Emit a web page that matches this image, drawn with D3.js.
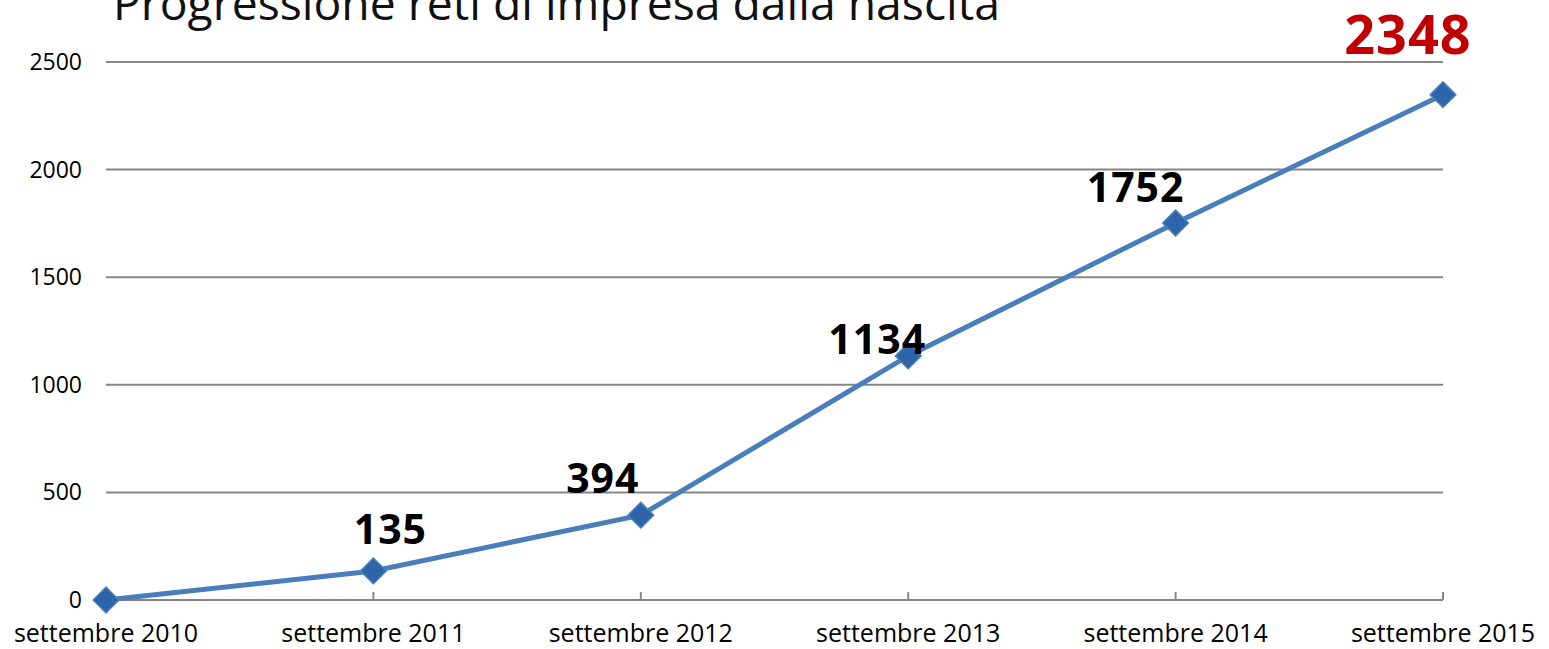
<!DOCTYPE html>
<html>
<head>
<meta charset="utf-8">
<script src="https://cdn.jsdelivr.net/npm/d3@7"></script>
<style>
  body { margin: 0; background: #fff; }
  text { font-family: "Open Sans", sans-serif; }
</style>
</head>
<body>
<div id="chart"></div>
<script>
// data
var categories = ["settembre 2010", "settembre 2011", "settembre 2012", "settembre 2013", "settembre 2014", "settembre 2015"];
var values = [0, 135, 394, 1134, 1752, 2348];
var showLabel = [false, true, true, true, true, true];
var yTicks = [0, 500, 1000, 1500, 2000, 2500];
var title = "Progressione reti di impresa dalla nascita";

// label nudges (pixels from point), like hand-placed labels
var labelDx = [0, 17, -38, -31, -40, -35];
var labelDy = [0, -27, -22, -2, -21, -41];

var width = 1549, height = 649;
var svg = d3.select("#chart").append("svg")
    .attr("width", width)
    .attr("height", height);

var x = d3.scalePoint().domain(categories).range([106, 1443]);
var y = d3.scaleLinear().domain([0, 2500]).range([600, 62]);

// title (partly cut off at the top, as in the original)
svg.append("text")
    .attr("x", 113)
    .attr("y", 20)
    .attr("font-size", 46.3)
    .attr("fill", "#111")
    .text(title);

// gridlines
svg.selectAll(".grid")
    .data(yTicks)
    .enter().append("line")
    .attr("x1", 106)
    .attr("x2", 1443)
    .attr("y1", function (d) { return y(d); })
    .attr("y2", function (d) { return y(d); })
    .attr("stroke", "#868686")
    .attr("stroke-width", 2);

// y labels
svg.selectAll(".ylab")
    .data(yTicks)
    .enter().append("text")
    .attr("x", 82)
    .attr("y", function (d) { return y(d); })
    .attr("dy", "0.35em")
    .attr("text-anchor", "end")
    .attr("font-size", 23)
    .attr("fill", "#000")
    .text(function (d) { return d; });

// x ticks (pointing up from the axis)
svg.selectAll(".xtick")
    .data(categories.slice(1))
    .enter().append("line")
    .attr("x1", function (d) { return x(d); })
    .attr("x2", function (d) { return x(d); })
    .attr("y1", y(0))
    .attr("y2", y(0) - 8)
    .attr("stroke", "#868686")
    .attr("stroke-width", 2);

// x labels
svg.selectAll(".xlab")
    .data(categories)
    .enter().append("text")
    .attr("x", function (d) { return x(d); })
    .attr("y", 642)
    .attr("text-anchor", "middle")
    .attr("font-size", 25)
    .attr("fill", "#000")
    .text(function (d) { return d; });

// line
var line = d3.line()
    .x(function (d, i) { return x(categories[i]); })
    .y(function (d) { return y(d); });

svg.append("path")
    .datum(values)
    .attr("d", line)
    .attr("fill", "none")
    .attr("stroke", "#4a7ebb")
    .attr("stroke-width", 5);

// diamond markers
var diamond = d3.symbol().type(d3.symbolSquare).size(330);
svg.selectAll(".marker")
    .data(values)
    .enter().append("path")
    .attr("d", diamond)
    .attr("transform", function (d, i) {
        return "translate(" + x(categories[i]) + "," + y(d) + ") rotate(45)";
    })
    .attr("fill", "#2e64aa")
    .attr("stroke", "#4a7ebb")
    .attr("stroke-width", 1.5);

// value labels
var last = values.length - 1;
svg.selectAll(".vlab")
    .data(values)
    .enter().append("text")
    .filter(function (d, i) { return showLabel[i]; })
    .attr("x", function (d) { var i = values.indexOf(d); return x(categories[i]) + labelDx[i]; })
    .attr("y", function (d) { var i = values.indexOf(d); return y(d) + labelDy[i]; })
    .attr("text-anchor", "middle")
    .attr("font-weight", "bold")
    .attr("letter-spacing", 1)
    .attr("font-size", function (d) { return values.indexOf(d) === last ? 54 : 41; })
    .attr("fill", function (d) { return values.indexOf(d) === last ? "#c00000" : "#000"; })
    .text(function (d) { return d; });
</script>
</body>
</html>
